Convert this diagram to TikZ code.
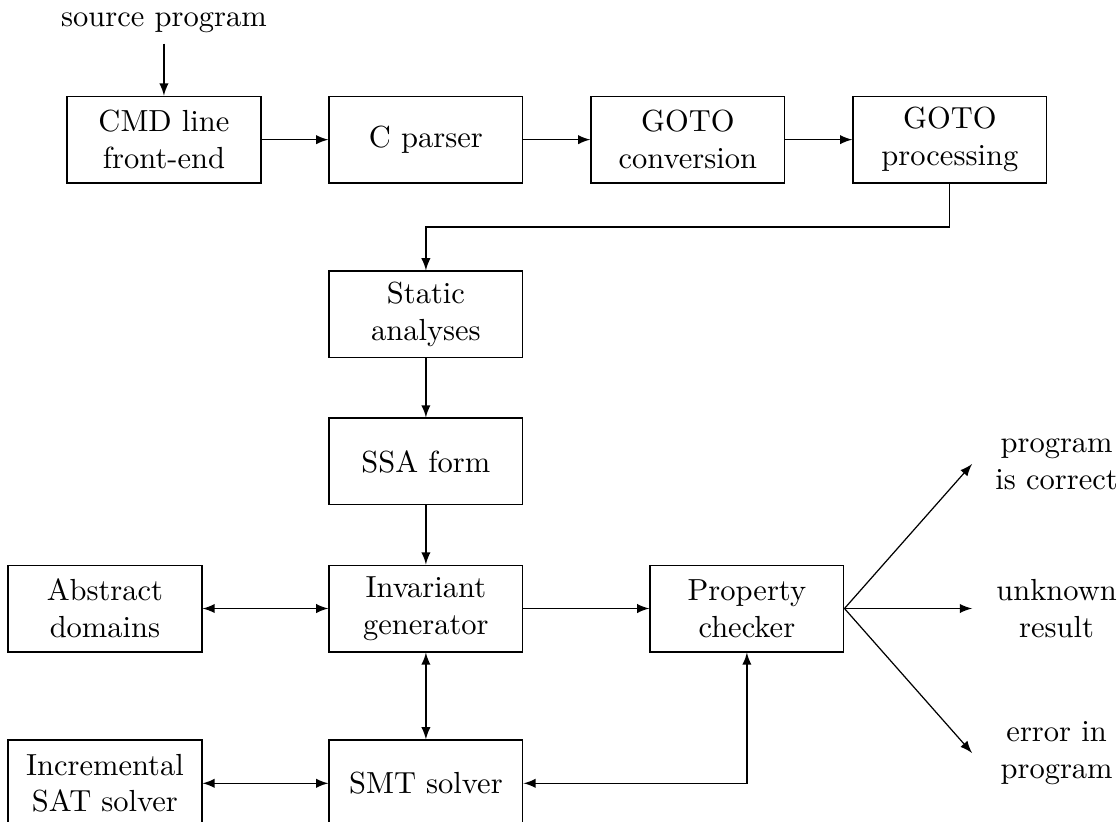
\documentclass[tikz,border=0pt]{standalone}
\usepackage{tikz}
\usetikzlibrary{arrows,positioning}
\begin{document}
\begin{tikzpicture}[>=latex]
        \tikzset{block/.style= {draw, rectangle, align=center, text width=2cm, minimum height=1cm},
        result/.style={align=center, text width=1.5cm}
        }
        \useasboundingbox (0,0) rectangle (12.87,9.46);
        \node [block] (cmd) at (1.889,7.851) {CMD line \\ front-end};
        \node [above=0.6cm of cmd] (source) {source program};
        \node [block, right =0.77cm of cmd] (parser) {C parser};
        \node [block, right =0.77cm of parser] (gotoconv) {GOTO \\ conversion};
        \node [block, right =0.77cm of gotoconv] (gotoproc) {GOTO \\ processing};
        \node [block, below =1cm of parser] (static) {Static \\ analyses};
        \node [block, below =0.68cm of static] (ssa) {SSA form};
        \node [block, below =0.68cm of ssa] (inv) {Invariant \\ generator};
        \node [block, left =1.45cm of inv] (absdom) {Abstract \\ domains};
        \node [block, right =1.45cm of inv] (prop) {Property \\ checker};
        \node [block, below =1cm of inv] (smt) {SMT solver};
        \node [block, left =1.45cm of smt] (incsat) {Incremental \\ SAT solver};
        \node [coordinate, below =0.5cm of gotoproc] (turn) {};  %% corner under GOTO processing
        \node [coordinate, right =1.47cm of prop] (unknown) {};
        \node [coordinate, above =1.665cm of unknown] (correct) {};
        \node [coordinate, below =1.665cm of unknown] (error) {};
        \node [result, right =0.1cm of correct] (correcttext) {program \\ is correct};
        \node [result, right =0.1cm of unknown] (unknowntext) {unknown \\ result};
        \node [result, right =0.1cm of error] (errortext) {error in \\ program};

%% paths
        \path[draw,->] (source) edge (cmd)
                    (cmd) edge (parser)
                    (parser) edge (gotoconv)
                    (gotoconv) edge (gotoproc)
                    (gotoproc.south) -- (turn) -| (static.north)
                    ;
        \path[->] (static) edge (ssa)
                    (ssa) edge (inv)
                    (inv) edge (prop)
                    (prop.east) edge (correct)
                    (prop.east) edge (unknown)
                    (prop.east) edge (error)
                    ;
        \path[<->] (absdom) edge (inv)
                    (inv) edge (smt)
                    (incsat) edge (smt)
                    ;
        \draw[<->] (prop.south) |- (smt.east);
    \end{tikzpicture}
\end{document}
